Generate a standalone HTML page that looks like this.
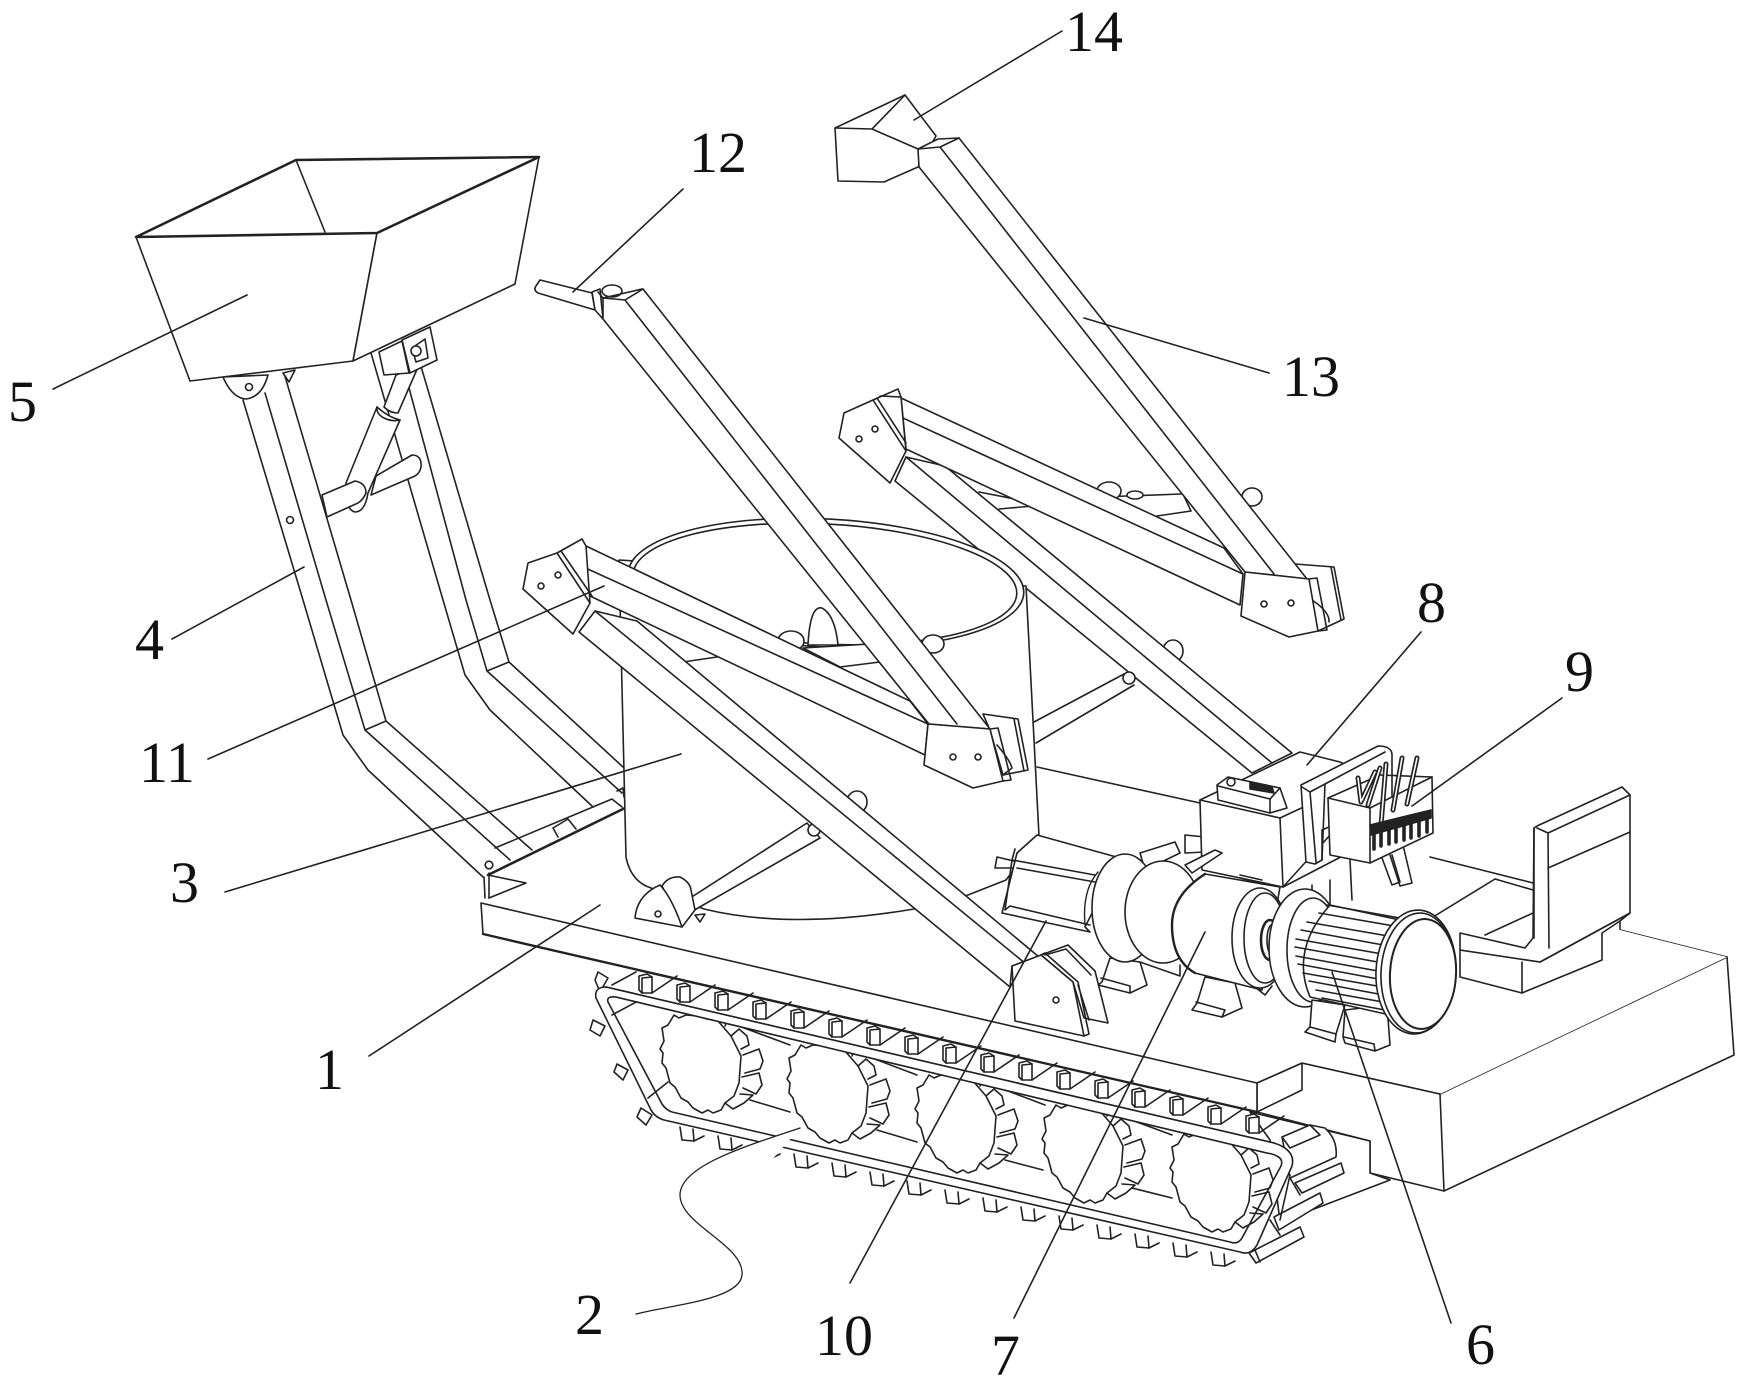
<!DOCTYPE html>
<html><head><meta charset="utf-8"><style>
html,body{margin:0;padding:0;background:#fff}
svg{display:block}
.s *{stroke:#222;stroke-width:1.6;fill:#fff;stroke-linejoin:round;stroke-linecap:round}
.s .n,.n{fill:none}
.s .f{fill:#222}
.s text{fill:#111;stroke:none;font-family:"Liberation Serif",serif;font-size:58px}
</style></head><body>
<svg class="s" width="1740" height="1386" viewBox="0 0 1740 1386" xmlns="http://www.w3.org/2000/svg">
<defs>
<g id="tb"><path class="n" d="M13,11L38,-6"/><polygon points="0,-6 8,-8 13,-5 13,11 3,11 0,8"/><path class="n" d="M3,-4V11M3,-4L13,-5"/></g>
<g id="bt"><path d="M0,-6L2,7L14,8L13,-4" /><path class="n" d="M14,8L24,3"/></g>
<g id="wh">
<path d="M-29,-48 L-24,-45 L-17,-48 L-5,-47 L4,-44 L15,-42 L28,-27 L38,-7 L36,20 L31,33 L22,40 L18,47 L10,50 L5,47 L-1,50 L-10,45 L-15,39 L-22,35 L-28,24 L-33,20 L-37,5 L-41,0 L-40,-10 L-43,-14 L-39,-22 L-41,-35 L-35,-38 Z"/>
<path class="n" d="M15,-42L18,-47L24,-42L22,-37M28,-27L36,-34L44,-27L46,-18L38,-14M40,-8L56,-14L60,-2L57,6L42,10M39,14L56,10L59,22L53,31L40,25M37,31L50,32L41,40L30,46L22,40"/>
</g>
</defs>

<!-- base -->
<polygon points="1370,1141 1370,1173 1444,1191 1734,1055 1727,957 1620,930 1440,1094 1302,1063 1257,1083 1257,1112"/>
<path class="n" d="M1440,1094L1727,957M1440,1094L1444,1191M1620,930L1620,921M1370,1173L1390,1180"/>
<polygon points="1250,1112 1370,1141 1370,1173 1390,1180 1280,1222 1270,1140"/>

<!-- track back/rollers -->
<path d="M1282,1137L1310,1125L1325,1128Q1338,1140 1336,1157L1290,1178Z"/>
<path class="n" d="M1290,1148L1320,1135L1310,1125M1282,1137L1290,1148"/>
<polygon points="1295,1183 1341,1163 1344,1173 1302,1193"/>
<polygon points="1274,1217 1320,1193 1323,1203 1279,1230"/>
<polygon points="1249,1253 1300,1227 1304,1237 1256,1263"/>
<path class="n" d="M1282,1160L1290,1175L1280,1220M1290,1178L1300,1195M1270,1220L1280,1235M1255,1250L1260,1262"/>

<!-- left teeth -->
<path d="M598,972L595,980L600,992L608,978Z"/><path d="M593,1020L590,1030L600,1036L605,1026Z"/><path d="M617,1064L614,1072L623,1080L628,1070Z"/><path d="M641,1108L637,1117L646,1125L652,1115Z"/>
<!-- bottom teeth -->
<use href="#bt" x="680" y="1133"/><use href="#bt" x="718" y="1142"/><use href="#bt" x="756" y="1151"/><use href="#bt" x="794" y="1160"/><use href="#bt" x="832" y="1169"/><use href="#bt" x="870" y="1178"/><use href="#bt" x="907" y="1187"/><use href="#bt" x="945" y="1196"/><use href="#bt" x="983" y="1204"/><use href="#bt" x="1021" y="1213"/><use href="#bt" x="1059" y="1222"/><use href="#bt" x="1097" y="1231"/><use href="#bt" x="1135" y="1240"/><use href="#bt" x="1173" y="1249"/><use href="#bt" x="1211" y="1258"/>

<!-- track belt -->
<path d="M596,998Q594,987 606,987L1274,1143Q1296,1150 1292,1166L1257,1245Q1250,1256 1240,1252L664,1120Q654,1117 650,1108Z"/>
<path d="M608,1002Q606,996 616,997L1267,1153Q1285,1156 1281,1166L1242,1238Q1238,1245 1230,1242L672,1112Q666,1110 662,1104Z"/>
<path class="n" d="M612,1015L640,1000M648,1098L668,1082M612,985L636,972"/>
<path class="n" d="M750,1100L790,1112M877,1130L917,1142M1005,1160L1043,1170M1132,1188L1172,1198M736,1025L790,1045M864,1055L917,1075M992,1085L1045,1105M1118,1115L1172,1135"/>
<use href="#wh" x="703" y="1063"/><use href="#wh" x="830" y="1093"/><use href="#wh" x="958" y="1123"/><use href="#wh" x="1085" y="1153"/><use href="#wh" x="1213" y="1182"/>
<polygon points="606,987 1274,1143 1267,1153 616,997" style="stroke:none"/>
<path class="n" d="M606,987L1274,1143M616,997L1267,1153"/>

<!-- deck -->
<path d="M481,903L1257,1083L1302,1063L1440,1094L1727,957L1620,930L1533,883L1430,857L1200,803L1037,767L526,883L488,875L489,898Z" style="stroke:none"/>
<polygon points="481,903 1257,1083 1257,1112 483,934" />
<path class="n" d="M483,934L560,952L1257,1112" style="stroke-width:2.4"/>
<path class="n" d="M1257,1083L1302,1063L1440,1094M1302,1063V1090L1257,1112"/>
<path class="n" d="M1037,767L1200,803"/>
<path class="n" d="M489,898L526,883L488,875"/>
<path class="n" d="M484,877L485,898M489,873V898"/><circle cx="489" cy="865" r="3.8"/>
<!-- top track blocks -->
<use href="#tb" x="639" y="982"/><use href="#tb" x="677" y="991"/><use href="#tb" x="715" y="999"/><use href="#tb" x="753" y="1008"/><use href="#tb" x="791" y="1017"/><use href="#tb" x="829" y="1026"/><use href="#tb" x="867" y="1034"/><use href="#tb" x="905" y="1043"/><use href="#tb" x="943" y="1052"/><use href="#tb" x="981" y="1061"/><use href="#tb" x="1019" y="1069"/><use href="#tb" x="1057" y="1078"/><use href="#tb" x="1095" y="1087"/><use href="#tb" x="1132" y="1096"/><use href="#tb" x="1170" y="1104"/><use href="#tb" x="1208" y="1113"/><use href="#tb" x="1246" y="1122"/>

<!-- seat -->
<path class="n" d="M1430,857L1533,883M1495,879L1533,890M1495,879L1420,925"/>
<polygon points="1460,950 1460,977 1522,993 1602,960 1602,933 1620,921 1630,913 1540,962"/>
<path class="n" d="M1522,962V993"/>
<polygon points="1460,933 1525,948 1533,938 1534,828 1537,826 1622,787 1630,795 1630,913 1540,962 1460,950"/>
<path class="n" d="M1537,828L1548,833L1630,795M1548,868L1630,832M1548,833L1549,948M1534,828V938M1485,935L1533,913"/>

<!-- left legs -->
<path class="n" d="M495,848L612,799L622,807"/>
<path class="n" d="M488,875L625,808" style="stroke-width:2.6"/>
<path class="n" d="M553,828L568,819L576,829M553,828L558,837M617,791L623,788L624,797"/>
<path class="n" d="M243,400L303,600L343,735L368,770L483,877M265,393L326,600L365,730L510,860M284,373L351,600L386,721L532,850M365,730L386,721"/>
<path class="n" d="M371,353L443,600L465,675L490,710L593,807M405,373L466,600L487,671L622,793M420,363L490,600L509,662L623,767M487,671L509,662"/>
<circle cx="290" cy="520" r="3.5"/>

<!-- actuator & cross tube -->
<path d="M376,476L412,455Q422,455 421,467Q420,473 415,476L371,495Z"/>
<path d="M346,483L377,407Q388,417 400,420L368,493Q365,512 355,512Q345,510 346,483Z"/>
<path d="M384,407L396,375L418,367L398,413Q390,413 384,407Z"/>
<path class="n" d="M377,407Q376,414 384,418Q392,422 400,420"/>
<path d="M322,495L355,481Q366,483 366,493Q363,500 358,503L327,517Z"/>
<!-- hopper pivot & bracket -->
<path d="M223,377Q232,398 246,399Q262,397 268,375Z"/><circle cx="249" cy="387" r="3.5"/>
<path d="M283,373L289,382L295,370Z"/>
<path d="M402,340L430,327L437,360L410,373Z"/>
<path d="M379,352L402,341L409,373L384,375Z"/>
<path d="M412,348L425,339L428,358L416,362Z"/><circle cx="416" cy="351" r="5"/>
<!-- hopper -->
<polygon points="136,237 377,233 353,361 190,381"/>
<polygon points="377,233 539,157 515,284 353,361"/>
<polygon points="296,160 539,157 377,233 136,237" style="stroke:#222"/>
<path class="n" d="M296,160L325,232"/>
<path class="n" d="M136,237L377,233L539,157L296,160Z" style="stroke-width:2.6"/>

<!-- rear arm group -->
<path class="n" d="M979,492L1020,500M999,509L1033,506M1100,497L1181,494M1157,516L1191,511M1183,494L1191,511"/>
<ellipse cx="1109" cy="491" rx="12" ry="9"/>
<ellipse cx="1135" cy="495" rx="8" ry="4"/>
<ellipse cx="1252" cy="497" rx="10" ry="9"/>
<polygon points="1295,564 1334,567 1344,619 1318,631 1305,600"/>
<path class="n" d="M1331,567L1341,620M1312,600Q1330,612 1329,622"/>
<!-- rear diagonal bar -->
<ellipse cx="1173" cy="651" rx="10" ry="11"/>
<polygon points="895,481 906,457 945,466 1292,753 1272,763 1252,773"/>
<path class="n" d="M906,457L1272,763"/>
<path class="n" d="M1034,722L1124,674M1036,743L1134,685"/><circle cx="1129" cy="678" r="6"/>
<!-- rear upper bar -->
<polygon points="901,398 1224,548 1243,574 1240,605 906,449"/>
<path class="n" d="M879,407L1243,574"/>
<!-- bar 13 -->
<polygon points="835,128 905,95 936,136 918,167 884,182 838,181"/>
<path class="n" d="M835,128L872,129L918,149M872,129L905,95"/>
<polygon points="918,149 938,139 959,138 1307,579 1245,572 919,167"/>
<path class="n" d="M918,149L940,147L959,138M940,147L1274,574"/>
<polygon points="1245,572 1309,579 1318,631 1289,637 1241,616"/>
<path class="n" d="M1309,579L1317,578L1327,630L1318,631"/>
<circle cx="1264" cy="604" r="3"/><circle cx="1291" cy="603" r="3"/>
<polygon points="844,413 873,400 898,389 901,397 906,451 890,483 839,438"/>
<path class="n" d="M873,400L906,451M877,398L906,443M880,396L901,397"/>
<circle cx="859" cy="439" r="3"/><circle cx="875" cy="429" r="3"/>

<!-- cylinder -->
<path d="M619,560L626,857Q630,878 646,886L704,909Q790,930 914,909L968,895L1006,880L1039,836L1026,586Z"/>
<ellipse cx="826" cy="583" rx="198" ry="64" transform="rotate(3 826 583)"/>
<ellipse cx="825" cy="584" rx="192" ry="60" transform="rotate(3 825 584)"/>
<!-- inside tube / paddles -->
<path d="M803,648L870,644L880,662L840,667Z"/>
<ellipse cx="791" cy="641" rx="13" ry="10"/>
<path d="M808,645Q810,605 822,608Q835,615 838,645Z"/>
<ellipse cx="933" cy="644" rx="11" ry="9"/>
<path class="n" d="M683,662L717,657"/>
<!-- bar 12 -->
<path d="M536,286L540,280L592,293L595,310L538,293Q533,290 536,286Z"/>
<path d="M592,292L600,289L603,319L595,310Z"/>
<ellipse cx="612" cy="291" rx="10" ry="6"/>
<path class="n" d="M598,292L603,298L642,289"/>
<polygon points="603,298 625,300 643,289 990,729 929,724 603,319"/>
<path class="n" d="M625,300L957,724"/>
<!-- plate behind lower-end bracket -->
<polygon points="983,714 1018,719 1028,770 1003,775 990,730"/>
<path class="n" d="M1014,719L1024,771M997,745Q1010,760 1012,768L1003,775"/>
<!-- upper front bar -->
<polygon points="586,546 910,701 928,724 925,755 590,596 568,560"/>
<path class="n" d="M568,560L928,724"/>
<polygon points="928,724 990,729 1003,781 973,788 924,765"/>
<path class="n" d="M990,729L998,728L1011,780L1003,781"/>
<circle cx="953" cy="757" r="3"/><circle cx="978" cy="757" r="3"/>

<!-- front diagonal bar -->
<path d="M687,900L807,823L820,838L691,912Z"/>
<circle cx="814" cy="830" r="6"/>
<ellipse cx="857" cy="802" rx="10" ry="11"/>
<polygon points="579,632 595,611 637,621 1039,957 1012,966 1010,987"/>
<path class="n" d="M595,611L1026,964"/>
<polygon points="528,563 557,553 582,539 586,546 590,603 573,634 523,589"/>
<path class="n" d="M557,553L590,603M561,551L592,596"/>
<circle cx="541" cy="586" r="3"/><circle cx="558" cy="575" r="3"/>
<!-- bottom pivot -->
<path d="M695,915L700,922L705,914Z"/>
<path d="M662,886Q668,876 680,877Q690,882 691,890L695,910L682,927Z"/>
<path d="M635,918Q637,895 660,885Q672,898 682,927Z"/>
<circle cx="658" cy="914" r="3"/>

<!-- block 8 -->
<path d="M1185,835L1205,837V852L1185,853Z"/>
<polygon points="1200,800 1300,752 1340,762 1380,780 1283,887 1202,850"/>
<polygon points="1200,800 1280,818 1283,887 1202,870"/>
<path class="n" d="M1280,818L1340,790"/>
<polygon points="1217,785 1228,777 1280,788 1287,808 1270,813 1218,800"/>
<path class="n" d="M1218,786L1270,799L1270,813M1270,799L1280,788"/>
<path class="f" d="M1250,782L1272,787L1274,793L1250,789Z"/><circle cx="1231" cy="782" r="4"/>
<!-- legs behind bin -->
<path class="n" d="M1283,887L1360,847M1312,885V910M1330,880V912M1350,860L1352,900"/>
<path class="n" d="M1390,855L1400,886L1412,883L1403,845"/>
<path class="n" d="M1382,858L1392,885L1400,882L1392,855" />
<!-- panel -->
<path d="M1301,785L1378,746Q1392,746 1392,755V800L1322,830V860L1315,864L1306,862Z"/>
<path class="n" d="M1302,787L1310,792L1325,784L1385,752M1310,792L1316,862M1325,784L1322,860"/>
<!-- bin -->
<polygon points="1328,798 1370,808 1432,777 1433,833 1370,863 1330,855"/>
<path class="n" d="M1370,808L1370,863M1328,798L1380,775L1432,777"/>
<path class="n" d="M1358,778L1361,802M1380,768L1368,805M1386,764L1381,825M1402,758L1393,810M1417,758L1407,804M1375,772L1362,800" style="stroke-width:5"/>
<path class="n" d="M1358,778L1361,802M1380,768L1368,805M1386,764L1381,825M1402,758L1393,810M1417,758L1407,804M1375,772L1362,800" style="stroke:#fff;stroke-width:1.6"/>
<path class="f" d="M1370,825L1431,810L1431,818L1371,835Z"/>
<path class="n" d="M1374,832V849M1381,830V846M1389,828V844M1396,826V842M1404,824V840M1411,822V838M1419,820V836M1427,818V832" style="stroke-width:3.6"/>

<!-- servo 10 -->
<path d="M997,857L1018,862V868L995,868Z"/>
<polygon points="1037,835 1120,858 1085,927 1090,932 1002,913 1017,853"/>
<path class="n" d="M1012,860L1095,875M1015,849L1012,860L1005,910L1010,906L1090,925M1017,868L1095,882"/>
<path d="M1140,853L1175,842L1180,853L1145,870Z"/>
<!-- feet -->
<path d="M1110,958L1102,982L1098,985L1130,993L1147,985L1140,962Z"/><path class="n" d="M1101,978L1130,986L1130,993"/>
<path d="M1205,977L1197,1003L1192,1010L1222,1017L1242,1008L1235,983Z"/><path class="n" d="M1196,1002L1225,1010L1222,1017"/>
<!-- disks -->
<ellipse cx="1125" cy="908" rx="33" ry="54"/>
<path class="n" d="M1098,872Q1082,890 1085,925" style="stroke-width:1.4"/>
<ellipse cx="1163" cy="912" rx="38" ry="51"/>
<path d="M1185,865L1215,850L1222,853L1192,873Z"/>
<!-- gearbox -->
<path d="M1205,874Q1172,895 1172,925Q1172,960 1195,973L1262,990L1280,887Z"/>
<path class="n" d="M1205,874Q1172,895 1172,925Q1172,960 1195,973" style="stroke-width:2.4"/>
<path class="n" d="M1240,878L1262,884M1240,875L1262,880"/>
<path class="n" d="M1140,962L1180,976L1180,965M1255,987L1265,995L1272,986"/>
<ellipse cx="1260" cy="938" rx="28" ry="50"/>
<ellipse cx="1265" cy="938" rx="21" ry="45"/>
<ellipse cx="1270" cy="940" rx="9" ry="20" style="stroke-width:2.6"/>
<ellipse cx="1273" cy="940" rx="6" ry="16"/>
<!-- motor -->
<ellipse cx="1305" cy="948" rx="36" ry="59"/>
<ellipse cx="1313" cy="950" rx="26" ry="52"/>
<path d="M1345,1010L1343,1037L1345,1043L1375,1051L1390,1045L1387,1005Z"/><path class="n" d="M1344,1037L1374,1044L1375,1051"/>
<path d="M1312,1000L1310,1027L1305,1032L1335,1042L1336,1034L1345,1005Z"/><path class="n" d="M1310,1027L1336,1034"/>
<path d="M1330,905L1400,920L1390,1015L1310,997Q1290,950 1330,905Z"/>
<path class="n" d="M1327,905L1400,918M1319,913L1400,927M1307,922L1400,938M1301,930L1400,948M1296,939L1400,957M1295,947L1400,966M1296,956L1400,975M1298,964L1400,983M1303,973L1400,990M1309,981L1400,998M1316,990L1400,1005M1322,998L1400,1013"/>
<ellipse cx="1416" cy="972" rx="40" ry="62" transform="rotate(3 1416 972)"/>
<ellipse cx="1418" cy="973" rx="37" ry="60" transform="rotate(3 1418 973)"/>
<ellipse cx="1423" cy="974" rx="33" ry="55" transform="rotate(3 1423 974)" style="stroke-width:2"/>

<!-- lower bracket -->
<polygon points="1041,955 1068,945 1095,971 1108,1023 1084,1018 1073,982"/>
<path class="n" d="M1045,955L1066,949L1091,975"/>
<polygon points="1012,966 1041,955 1073,982 1084,1036 1015,1021"/>
<path class="n" d="M1041,955L1045,953L1078,982L1089,1034L1084,1036M1078,985L1089,1020"/>
<circle cx="1056" cy="1000" r="3"/>

<!-- leaders -->
<g class="n">
<path d="M1062,31L914,120"/><path d="M683,189L573,292"/><path d="M1084,318L1269,373"/>
<path d="M53,389L247,295"/><path d="M172,639L304,567"/><path d="M208,759L604,586"/>
<path d="M225,892L681,754"/><path d="M369,1056L600,905"/>
<path d="M800,1128C750,1145 680,1165 680,1195C680,1225 745,1245 742,1275C740,1300 670,1305 636,1314" style="stroke-width:1.3"/>
<path d="M1046,921L850,1283"/><path d="M1205,932L1014,1318"/><path d="M1332,972L1451,1323"/>
<path d="M1307,765L1421,632"/><path d="M1562,698L1412,806"/>
</g>
<!-- labels -->
<text x="1065" y="51">14</text><text x="689" y="172">12</text><text x="1282" y="396">13</text>
<text x="8" y="421">5</text><text x="1417" y="622">8</text><text x="1565" y="691">9</text>
<text x="135" y="659">4</text><text x="139" y="782">11</text><text x="170" y="902">3</text>
<text x="315" y="1089">1</text><text x="575" y="1334">2</text><text x="815" y="1355">10</text>
<text x="991" y="1375">7</text><text x="1466" y="1364">6</text>
</svg>
</body></html>
